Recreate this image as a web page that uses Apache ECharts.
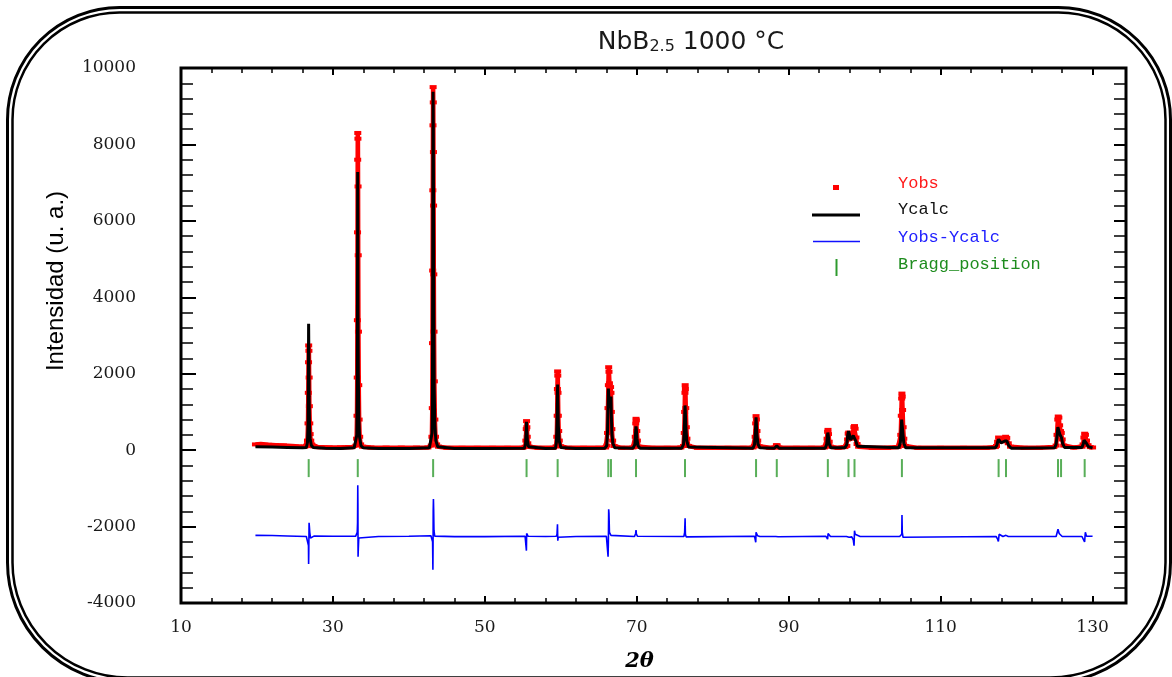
<!DOCTYPE html>
<html>
<head>
<meta charset="utf-8">
<title>NbB2.5 1000 °C</title>
<script src="https://cdn.jsdelivr.net/npm/echarts@6/dist/echarts.min.js"></script>
<style>
html, body { margin: 0; padding: 0; background: #fff; }
#chart { width: 1172px; height: 677px; }
</style>
</head>
<body>
<div id="chart"></div>
<script>
// tick positions / labels
var xMajorTicks = [10, 30, 50, 70, 90, 110, 130];
var xMinorTicks = [14, 18, 22, 26, 34, 38, 42, 46, 54, 58, 62, 66, 74, 78, 82, 86, 94, 98, 102, 106, 114, 118, 122, 126];

// Yobs (2theta, intensity)
var obsPoints = [
    [19.8,150],[20.5,160],[21.5,140],[22.5,130],[23.5,120],[24.5,110],[25.5,95],[26.3,90],
    [26.55,110],[26.65,250],[26.72,700],[26.76,1500],[26.79,2300],[26.81,2740],[26.84,2600],[26.87,1900],[26.9,1150],[26.95,700],[27.0,420],[27.08,250],[27.2,150],[27.4,100],
    [28,80],[29.5,70],[31,70],[32.5,80],
    [33.05,120],[33.12,300],[33.17,900],[33.2,1900],[33.22,3400],[33.24,5700],[33.26,7600],[33.27,8300],[33.29,8150],[33.31,6900],[33.33,5100],[33.36,3100],[33.4,1700],[33.45,800],[33.52,350],[33.65,150],[33.9,90],
    [35,70],[37,65],[39,65],[41,65],[42.5,70],
    [42.95,120],[43.03,350],[43.08,1100],[43.11,2800],[43.13,4700],[43.15,6800],[43.17,8500],[43.19,9500],[43.21,9100],[43.23,7800],[43.25,6400],[43.28,4600],[43.31,3100],[43.35,1800],[43.42,800],[43.5,350],[43.65,150],[43.9,90],
    [45,60],[47,60],[49,60],[51,60],[53,60],[55,60],
    [55.3,90],[55.4,250],[55.45,550],[55.49,760],[55.53,600],[55.58,350],[55.65,180],[55.8,90],
    [57,60],[59,60],
    [59.38,100],[59.47,350],[59.52,900],[59.55,1600],[59.58,2060],[59.6,1950],[59.63,1500],[59.67,900],[59.72,500],[59.8,250],[59.95,100],
    [61,60],[63,60],[65,60],[65.9,70],
    [66.05,120],[66.15,450],[66.21,1100],[66.26,1700],[66.3,2170],[66.34,2050],[66.4,1750],[66.47,1500],[66.55,1650],[66.6,1500],[66.65,1000],[66.72,550],[66.82,250],[67,110],
    [68,60],[69.5,70],
    [69.72,100],[69.8,350],[69.86,700],[69.9,820],[69.94,780],[70.0,500],[70.08,250],[70.25,90],
    [72,60],[74,60],[75.8,70],
    [76.15,110],[76.25,450],[76.3,1000],[76.34,1500],[76.37,1700],[76.4,1600],[76.45,1100],[76.52,600],[76.6,300],[76.8,110],
    [78,60],[80,60],[82,60],[84,60],[85.3,70],
    [85.48,110],[85.58,350],[85.65,700],[85.7,890],[85.75,800],[85.82,500],[85.92,250],[86.1,100],
    [87.5,60],
    [88.2,70],[88.38,130],[88.48,125],[88.7,70],
    [91,60],[93,60],[94.7,70],
    [94.95,110],[95.05,300],[95.12,480],[95.17,530],[95.24,420],[95.33,220],[95.5,90],
    [96.5,60],[97.4,80],
    [97.65,110],[97.75,280],[97.83,430],[97.9,460],[98.0,380],[98.15,300],[98.3,330],[98.45,450],[98.58,600],[98.66,630],[98.74,560],[98.85,330],[99.0,160],[99.2,90],
    [101,60],[103,60],[104.4,80],
    [104.65,120],[104.75,400],[104.82,900],[104.87,1350],[104.9,1480],[104.94,1400],[104.99,1050],[105.06,600],[105.15,300],[105.35,110],
    [107,60],[110,60],[113,60],[116,60],[117.2,80],
    [117.35,110],[117.5,220],[117.63,330],[117.78,310],[117.95,250],[118.15,230],[118.35,280],[118.55,350],[118.7,320],[118.9,180],[119.2,90],
    [121,60],[123,60],[124.9,80],
    [125.2,120],[125.32,400],[125.42,800],[125.48,880],[125.56,850],[125.66,650],[125.78,500],[125.88,450],[126.0,280],[126.2,120],
    [127.5,70],[128.6,90],
    [128.75,150],[128.86,330],[128.96,430],[129.06,400],[129.2,250],[129.4,130],[129.7,80],[130,70]
];

// Ycalc
var calcPoints = [
    [19.8,90],[22,80],[24,70],[26,60],[26.5,70],
    [26.65,200],[26.73,700],[26.78,2400],[26.8,3310],[26.83,2500],[26.86,1400],[26.92,600],[27.0,300],[27.15,130],[27.4,70],
    [29,50],[31,45],[32.8,60],
    [33.05,100],[33.15,400],[33.2,1600],[33.24,4500],[33.26,7280],[33.28,6200],[33.3,3570],[33.34,2000],[33.4,900],[33.5,350],[33.7,110],[34,60],
    [36,45],[40,45],[42.7,60],
    [42.95,110],[43.05,450],[43.1,1500],[43.14,5000],[43.18,9380],[43.21,8500],[43.24,6680],[43.28,3500],[43.33,1600],[43.42,650],[43.55,250],[43.8,90],
    [46,40],[50,40],[55.2,50],
    [55.35,150],[55.43,450],[55.48,740],[55.52,520],[55.6,250],[55.75,90],[56,50],
    [58,40],[59.3,50],
    [59.42,200],[59.5,700],[59.55,1400],[59.58,1720],[59.61,1300],[59.67,650],[59.78,250],[60,70],
    [62,40],[65.8,50],
    [66.05,120],[66.15,500],[66.22,1200],[66.26,1610],[66.3,1450],[66.4,1100],[66.5,1050],[66.57,1300],[66.6,1400],[66.64,1000],[66.72,450],[66.85,180],[67.1,60],
    [69.5,50],
    [69.75,150],[69.84,450],[69.89,620],[69.94,550],[70.02,300],[70.15,120],[70.4,50],
    [75.9,50],
    [76.15,150],[76.25,500],[76.31,950],[76.35,1170],[76.39,1000],[76.46,600],[76.58,250],[76.8,80],
    [85.3,50],
    [85.5,150],[85.6,450],[85.67,750],[85.7,860],[85.74,700],[85.82,400],[85.95,160],[86.2,60],
    [88.1,50],[88.43,110],[88.75,50],
    [94.8,50],
    [95.0,150],[95.1,380],[95.15,460],[95.21,380],[95.32,170],[95.55,60],
    [97.4,60],
    [97.65,150],[97.76,380],[97.87,500],[97.98,420],[98.15,270],[98.3,260],[98.5,380],[98.62,430],[98.7,400],[98.85,230],[99.05,100],[99.3,50],
    [104.5,60],
    [104.7,200],[104.8,550],[104.87,800],[104.9,850],[104.94,780],[105.02,450],[105.15,180],[105.4,60],
    [117.2,60],
    [117.4,130],[117.52,230],[117.63,285],[117.75,270],[117.95,190],[118.2,180],[118.45,240],[118.6,270],[118.72,240],[118.95,120],[119.3,50],
    [125.0,60],
    [125.2,150],[125.33,380],[125.43,600],[125.47,630],[125.55,580],[125.68,420],[125.82,380],[125.9,330],[126.05,180],[126.3,70],
    [128.6,70],
    [128.78,170],[128.88,260],[128.96,300],[129.06,280],[129.22,170],[129.45,90],[130,60]
];

// Yobs-Ycalc (shifted down, as plotted)
var diffPoints = [
    [19.8,-2230],[22,-2235],[24,-2245],[26.5,-2260],
    [26.7,-2300],[26.78,-2500],[26.8,-2980],[26.82,-2700],[26.86,-1900],[26.9,-2000],[26.95,-2150],[27.05,-2300],[27.2,-2260],[27.5,-2250],
    [30,-2255],[33.0,-2250],
    [33.2,-2150],[33.24,-1900],[33.27,-920],[33.29,-1400],[33.31,-2790],[33.34,-2600],[33.4,-2300],[33.6,-2250],
    [36,-2260],[40,-2255],[42.9,-2240],
    [43.05,-2280],[43.12,-2400],[43.16,-3130],[43.18,-2500],[43.2,-1600],[43.23,-1280],[43.26,-1550],[43.3,-2100],[43.4,-2250],[43.6,-2265],
    [46,-2262],[50,-2262],[55.3,-2255],
    [55.42,-2300],[55.47,-2630],[55.5,-2180],[55.55,-2220],[55.7,-2255],
    [58,-2260],[59.4,-2255],
    [59.5,-2200],[59.56,-1940],[59.6,-2370],[59.66,-2280],[59.8,-2260],
    [62,-2260],[66.0,-2255],
    [66.15,-2300],[66.22,-2790],[66.26,-2400],[66.3,-1550],[66.34,-1650],[66.4,-2150],[66.5,-2100],[66.6,-2230],[66.8,-2260],
    [69.7,-2260],
    [69.85,-2180],[69.9,-2090],[69.95,-2200],[70.1,-2255],
    [76.2,-2260],
    [76.3,-2150],[76.36,-1780],[76.4,-2200],[76.5,-2270],[76.7,-2260],
    [85.5,-2255],
    [85.62,-2300],[85.66,-2410],[85.7,-2150],[85.78,-2140],[85.9,-2240],[86.2,-2260],
    [88.3,-2260],[88.45,-2310],[88.6,-2265],
    [94.9,-2255],
    [95.05,-2300],[95.12,-2330],[95.18,-2180],[95.3,-2230],[95.5,-2260],
    [97.6,-2260],
    [97.8,-2240],[97.95,-2280],[98.3,-2270],[98.5,-2350],[98.6,-2500],[98.66,-2110],[98.75,-2200],[99.0,-2250],[99.4,-2260],
    [104.6,-2260],
    [104.8,-2250],[104.88,-2200],[104.91,-1700],[104.95,-2150],[105.05,-2280],[105.3,-2260],
    [117.3,-2260],
    [117.5,-2330],[117.6,-2390],[117.7,-2200],[117.85,-2230],[118.2,-2260],[118.6,-2230],[118.9,-2260],
    [125.2,-2260],
    [125.35,-2280],[125.45,-2070],[125.5,-2120],[125.6,-2180],[125.75,-2230],[126.0,-2260],
    [128.6,-2260],
    [128.85,-2250],[128.95,-2400],[129.05,-2150],[129.2,-2250],[130,-2255]
];

// Bragg reflections (2theta)
var braggPositions = [26.81, 33.27, 43.19, 55.49, 59.58, 66.25, 66.6, 69.9, 76.35, 85.7,
    88.43, 95.15, 97.87, 98.66, 104.9, 117.63, 118.6, 125.45, 125.85, 128.96];
var braggLevel = -470;

var tickFont = 'DejaVu Serif';
var myChart = echarts.init(document.getElementById('chart'));

var braggData = braggPositions.map(function (p) { return [p, braggLevel]; });

var xBase = {
    type: 'value', min: 10, max: 134.4,
    axisLine: { show: false, onZero: false },
    splitLine: { show: false },
    axisLabel: { show: false }
};

var option = {
    animation: false,
    backgroundColor: '#fff',
    title: {
        text: '{a|NbB}{s|2.5}{a| 1000 °C}',
        left: 686,
        textAlign: 'center',
        top: 25,
        textStyle: {
            fontWeight: 'normal',
            rich: {
                a: { fontFamily: 'DejaVu Sans', fontSize: 25, fontWeight: 'normal', color: '#1a1a1a' },
                s: { fontFamily: 'DejaVu Sans', fontSize: 16, fontWeight: 'normal', color: '#1a1a1a', verticalAlign: 'bottom' }
            }
        }
    },
    grid: {
        left: 181, right: 46, top: 68, bottom: 73,
        show: true, borderColor: '#000', borderWidth: 3
    },
    xAxis: [
        Object.assign({}, xBase, {
            position: 'bottom',
            axisTick: { inside: true, length: 7, customValues: xMajorTicks, lineStyle: { color: '#000', width: 2 } },
            axisLabel: {
                show: true, customValues: xMajorTicks, margin: 16,
                fontFamily: tickFont, fontSize: 17, color: '#1a1a1a'
            },
            name: '2θ',
            nameLocation: 'middle',
            nameGap: 48,
            nameTextStyle: {
                fontFamily: 'DejaVu Serif', fontStyle: 'italic', fontWeight: 'bold',
                fontSize: 21, color: '#000', padding: [0, 28, 0, 0]
            }
        }),
        Object.assign({}, xBase, {
            position: 'bottom',
            axisTick: { inside: true, length: 5, customValues: xMinorTicks, lineStyle: { color: '#000', width: 1.5 } }
        }),
        Object.assign({}, xBase, {
            position: 'top',
            axisTick: { inside: true, length: 7, customValues: xMajorTicks, lineStyle: { color: '#000', width: 2 } }
        }),
        Object.assign({}, xBase, {
            position: 'top',
            axisTick: { inside: true, length: 5, customValues: xMinorTicks, lineStyle: { color: '#000', width: 1.5 } }
        })
    ],
    yAxis: [
        {
            type: 'value', position: 'left',
            min: -4000, max: 10000, interval: 2000,
            axisLine: { show: false, onZero: false },
            splitLine: { show: false },
            axisTick: { inside: true, length: 15, lineStyle: { color: '#000', width: 2 } },
            minorTick: { show: true, splitNumber: 5, length: 12, lineStyle: { color: '#000', width: 1.5 } },
            axisLabel: {
                margin: 45, fontFamily: tickFont, fontSize: 17, color: '#1a1a1a',
                formatter: function (v) { return String(v); }
            }
        },
        {
            type: 'value', position: 'right',
            min: -4000, max: 10000, interval: 2000,
            axisLine: { show: false, onZero: false },
            splitLine: { show: false },
            axisTick: { inside: true, length: 12, lineStyle: { color: '#000', width: 2 } },
            minorTick: { show: true, splitNumber: 5, length: 12, lineStyle: { color: '#000', width: 1.5 } },
            axisLabel: { show: false }
        }
    ],
    series: [
        {
            name: 'Yobs', type: 'line', data: obsPoints,
            symbol: 'rect', symbolSize: [7, 4], showSymbol: true, showAllSymbol: true,
            itemStyle: { color: '#ff0000' },
            lineStyle: { color: '#ff0000', width: 4.5 },
            z: 2
        },
        {
            name: 'Ycalc', type: 'line', data: calcPoints,
            symbol: 'none',
            lineStyle: { color: '#000', width: 3 },
            z: 3
        },
        {
            name: 'Yobs-Ycalc', type: 'line', data: diffPoints,
            symbol: 'none',
            lineStyle: { color: '#0000ff', width: 1.6 },
            z: 3
        },
        {
            name: 'Bragg_position', type: 'scatter', data: braggData,
            symbol: 'rect', symbolSize: [2, 18],
            itemStyle: { color: '#2e9a2e' },
            z: 3
        }
    ],
    graphic: [
        // double rounded frame
        { type: 'rect', silent: true, z: 0,
          shape: { x: 7.5, y: 7.5, width: 1163, height: 675, r: [112, 112, 120, 120] },
          style: { fill: 'none', stroke: '#000', lineWidth: 3 } },
        { type: 'rect', silent: true, z: 0,
          shape: { x: 12.5, y: 12.5, width: 1153, height: 665, r: [107, 107, 115, 115] },
          style: { fill: 'none', stroke: '#000', lineWidth: 2.5 } },
        // y axis name
        { type: 'text', x: 56, y: 281, rotation: Math.PI / 2,
          style: { text: 'Intensidad (u. a.)', fontFamily: 'Liberation Sans', fontSize: 24,
                   fill: '#000', align: 'center', verticalAlign: 'middle' } },
        // legend
        { type: 'rect', shape: { x: 833, y: 185, width: 6, height: 5 }, style: { fill: '#ff0000' } },
        { type: 'text', x: 898, y: 183,
          style: { text: 'Yobs', fontFamily: 'Liberation Mono', fontSize: 17, fill: '#ff1a1a', verticalAlign: 'middle' } },
        { type: 'line', shape: { x1: 812, y1: 215, x2: 860, y2: 215 }, style: { stroke: '#000', lineWidth: 3 } },
        { type: 'text', x: 898, y: 209,
          style: { text: 'Ycalc', fontFamily: 'Liberation Mono', fontSize: 17, fill: '#111', verticalAlign: 'middle' } },
        { type: 'line', shape: { x1: 813, y1: 241.5, x2: 860, y2: 241.5 }, style: { stroke: '#1010ff', lineWidth: 1.5 } },
        { type: 'text', x: 898, y: 237,
          style: { text: 'Yobs-Ycalc', fontFamily: 'Liberation Mono', fontSize: 17, fill: '#2020ff', verticalAlign: 'middle' } },
        { type: 'line', shape: { x1: 836.5, y1: 259, x2: 836.5, y2: 276 }, style: { stroke: '#2e9a2e', lineWidth: 2 } },
        { type: 'text', x: 898, y: 264,
          style: { text: 'Bragg_position', fontFamily: 'Liberation Mono', fontSize: 17, fill: '#1e8c1e', verticalAlign: 'middle' } }
    ]
};

myChart.setOption(option);
</script>
</body>
</html>
